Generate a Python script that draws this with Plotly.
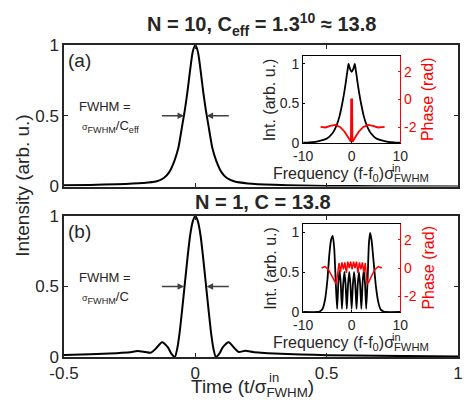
import math
import plotly.graph_objects as go

# ---------------- data ----------------
# panel (a): output pulse, N = 10
t_a = [-0.5, -0.4, -0.3, -0.2, -0.15, -0.12, -0.1, -0.08, -0.065, -0.05, -0.04, -0.03, -0.02, -0.01, 0.0,
       0.01, 0.02, 0.03, 0.04, 0.05, 0.065, 0.08, 0.1, 0.12, 0.15, 0.2, 0.3, 0.4, 0.5, 0.7, 1.0]
I_a = [0.008, 0.011, 0.016, 0.025, 0.035, 0.06, 0.1, 0.18, 0.27, 0.43, 0.54, 0.67, 0.82, 0.95, 1.0,
       0.95, 0.82, 0.67, 0.54, 0.43, 0.27, 0.18, 0.1, 0.06, 0.035, 0.022, 0.012, 0.007, 0.004, 0.002, 0.0]

# panel (b): output pulse, N = 1
t_b = [-0.5, -0.4, -0.3, -0.25, -0.22, -0.19, -0.17, -0.15, -0.127, -0.105, -0.09, -0.078, -0.07, -0.06, -0.05,
       -0.04, -0.03, -0.02, -0.01, 0.0, 0.01, 0.02, 0.03, 0.04, 0.05, 0.06, 0.07, 0.078, 0.09, 0.105, 0.127,
       0.15, 0.165, 0.19, 0.22, 0.25, 0.3, 0.4, 0.5, 0.7, 1.0]
I_b = [0.014, 0.02, 0.027, 0.033, 0.043, 0.035, 0.03, 0.06, 0.105, 0.07, 0.02, 0.0, 0.05, 0.17, 0.34,
       0.52, 0.7, 0.86, 0.96, 1.0, 0.96, 0.86, 0.7, 0.52, 0.34, 0.17, 0.05, 0.0, 0.02, 0.07, 0.105,
       0.06, 0.035, 0.045, 0.035, 0.03, 0.025, 0.018, 0.013, 0.008, 0.004]

# inset (a): spectrum intensity and phase
f_spec_a = [-10, -9, -8, -7, -6, -5, -4, -3.5, -3, -2.5, -2, -1.5, -1.2, -1, -0.8, -0.65, -0.5, -0.3, 0,
            0.3, 0.5, 0.65, 0.8, 1, 1.2, 1.5, 2, 2.5, 3, 3.5, 4, 5, 6, 7, 8, 9, 10]
S_a = [0.003, 0.006, 0.01, 0.02, 0.035, 0.06, 0.12, 0.17, 0.24, 0.34, 0.48, 0.65, 0.77, 0.86, 0.94, 1.0, 0.97, 0.93, 0.9,
       0.93, 0.97, 1.0, 0.94, 0.86, 0.77, 0.65, 0.48, 0.34, 0.24, 0.17, 0.12, 0.06, 0.035, 0.02, 0.01, 0.006, 0.003]
f_phase_a = [-6.4, -5.4, -4.4, -3.4, -2.4, -1.5, -0.8, -0.34, -0.15, -0.1, 0.1, 0.15, 0.34, 0.8, 1.5, 2.4, 3.4, 4.4, 5.4, 6.8]
phi_a = [-1.98, -2.02, -1.9, -1.83, -1.98, -2.31, -2.69, -2.98, -3.05, 0.0, 0.0, -3.05, -2.98, -2.69, -2.31, -1.98, -1.83, -1.9, -2.02, -1.98]

# inset (b): spectrum intensity and phase
f_spec_b = [-10, -7, -6.5, -6, -5.5, -5, -4.6, -4.25, -3.9, -3.6, -3.3, -3.0, -2.75, -2.5, -2.25, -2.0, -1.75, -1.5,
            -1.25, -1.0, -0.75, -0.5, -0.25, 0, 0.25, 0.5, 0.75, 1.0, 1.25, 1.5, 1.75, 2.0, 2.25, 2.5, 2.75, 3.0,
            3.3, 3.55, 3.8, 4.1, 4.45, 5.0, 5.5, 6.0, 6.5, 7.0, 10]
S_b = [0, 0, 0.01, 0.04, 0.15, 0.4, 0.72, 0.9, 0.95, 0.8, 0.4, 0.04, 0.36, 0.52, 0.36, 0.04, 0.34, 0.5,
       0.34, 0.04, 0.34, 0.5, 0.34, 0.04, 0.34, 0.5, 0.34, 0.04, 0.34, 0.5, 0.34, 0.04, 0.36, 0.52, 0.36, 0.04,
       0.42, 0.85, 0.99, 0.9, 0.68, 0.32, 0.12, 0.03, 0.01, 0, 0]
f_phase_b = [-6.2, -5.5, -4.8, -4.2, -3.6, -3.2, -2.9, -2.6, -2.3, -2.0, -1.7, -1.4, -1.1, -0.8, -0.5, -0.2,
             0.1, 0.4, 0.7, 1.0, 1.3, 1.6, 1.9, 2.2, 2.5, 2.8, 3.2, 3.6, 4.2, 4.8, 5.5, 6.2]
phi_b = [0.0, 0.1, -0.1, -0.5, -0.95, -1.14, -0.4, 0.35, -0.3, 0.4, -0.1, 0.4, -0.35, 0.45, 0.0, 0.45,
         -0.1, 0.45, 0.0, 0.45, -0.35, 0.4, -0.1, 0.4, -0.3, 0.35, -1.14, -0.95, -0.5, -0.1, 0.1, 0.0]

x_ticks = [-0.5, 0, 0.5, 1]
x_ticktext = ["-0.5", "0", "0.5", "1"]
y_ticks = [0, 0.5, 1]
y_ticktext = ["0", "0.5", "1"]
inset_x_ticks = [-10, 0, 10]
inset_x_ticktext = ["-10", "0", "10"]
phase_ticks = [-2, 0, 2]
phase_ticktext = ["-2", "0", "2"]
half_max = 0.5
fwhm_edges = [-0.043, 0.043]

# ---------------- layout helpers ----------------
W, H = 468, 403
L, R, T, B = 64, 2, 45, 46
PW, PH = W - L - R, H - T - B


def px(x):  # page pixel -> paper
    return (x - L) / PW


def py(y):
    return (H - B - y) / PH


FONT = "Liberation Sans, Arial, Helvetica, sans-serif"
AX = "#262626"
RED = "#ff0000"

fig = go.Figure()
fig.add_trace(go.Scatter(x=t_b, y=I_b, xaxis="x", yaxis="y", mode="lines",
                         line=dict(color="black", width=2, shape="spline", smoothing=0.6)))
fig.add_trace(go.Scatter(x=t_a, y=I_a, xaxis="x2", yaxis="y2", mode="lines",
                         line=dict(color="black", width=2, shape="spline", smoothing=0.6)))
fig.add_trace(go.Scatter(x=f_spec_a, y=S_a, xaxis="x3", yaxis="y3", mode="lines",
                         line=dict(color="black", width=1.8, shape="spline", smoothing=0.6)))
fig.add_trace(go.Scatter(x=f_phase_a, y=phi_a, xaxis="x3", yaxis="y4", mode="lines",
                         line=dict(color=RED, width=1.8)))
fig.add_trace(go.Scatter(x=f_spec_b, y=S_b, xaxis="x4", yaxis="y5", mode="lines",
                         line=dict(color="black", width=1.8, shape="spline", smoothing=0.6)))
fig.add_trace(go.Scatter(x=f_phase_b, y=phi_b, xaxis="x4", yaxis="y6", mode="lines",
                         line=dict(color=RED, width=1.5)))

main_ax = dict(showline=True, linecolor=AX, linewidth=1.5, mirror="ticks", ticks="inside", ticklen=4,
               tickcolor=AX, tickwidth=1, showgrid=False, zeroline=False,
               tickfont=dict(family=FONT, size=17, color=AX))
inset_ax = dict(showline=True, linecolor="black", linewidth=1.3, ticks="inside", ticklen=2,
                tickcolor="black", showgrid=False, zeroline=False,
                tickfont=dict(family=FONT, size=14, color=AX))
phase_ax = dict(showline=True, linecolor=RED, linewidth=1.3, ticks="inside", ticklen=2,
                tickcolor=RED, showgrid=False, zeroline=False, side="right",
                range=[-math.pi, math.pi], tickvals=phase_ticks, ticktext=phase_ticktext,
                tickfont=dict(family=FONT, size=14, color=RED))

ia_x = [px(308), px(407)]
ia_y = [py(143), py(56)]
ib_y = [py(312), py(224)]

fig.update_layout(
    width=W, height=H, margin=dict(l=L, r=R, t=T, b=B),
    paper_bgcolor="white", plot_bgcolor="white", showlegend=False,
    font=dict(family=FONT, color=AX),
    xaxis=dict(main_ax, domain=[0, 1], anchor="y", range=[-0.5, 1], tickvals=x_ticks, ticktext=x_ticktext,
               ticklabeloverflow="allow"),
    yaxis=dict(main_ax, domain=[0, py(216)], anchor="x", range=[0, 1], tickvals=y_ticks, ticktext=y_ticktext),
    xaxis2=dict(main_ax, domain=[0, 1], anchor="y2", range=[-0.5, 1], tickvals=x_ticks, showticklabels=False),
    yaxis2=dict(main_ax, domain=[py(186.5), 1], anchor="x2", range=[0, 1], tickvals=y_ticks, ticktext=y_ticktext),
    xaxis3=dict(inset_ax, domain=ia_x, anchor="y3", range=[-10, 10], tickvals=inset_x_ticks,
                ticktext=inset_x_ticktext, mirror=True),
    yaxis3=dict(inset_ax, domain=ia_y, anchor="x3", range=[0, 1.1], tickvals=y_ticks, ticktext=y_ticktext),
    yaxis4=dict(phase_ax, overlaying="y3", anchor="x3"),
    xaxis4=dict(inset_ax, domain=ia_x, anchor="y5", range=[-10, 10], tickvals=inset_x_ticks,
                ticktext=inset_x_ticktext, mirror=True),
    yaxis5=dict(inset_ax, domain=ib_y, anchor="x4", range=[0, 1.1], tickvals=y_ticks, ticktext=y_ticktext),
    yaxis6=dict(phase_ax, overlaying="y5", anchor="x4"),
)

ann = []


def text(x, y, s, size, color=AX, angle=0, xanchor="center", yanchor="middle"):
    ann.append(dict(x=px(x), y=py(y), xref="paper", yref="paper", text=s, showarrow=False,
                    font=dict(family=FONT, size=size, color=color), textangle=angle,
                    xanchor=xanchor, yanchor=yanchor))


# titles
text(265, 24, "<b>N = 10, C<sub>eff</sub> = 1.3<sup>10</sup> ≈ 13.8</b>", 20)
text(267, 202, "<b>N = 1, C = 13.8</b>", 20)
# panel letters
text(66, 60, "(a)", 19, xanchor="left")
text(66, 231, "(b)", 19, xanchor="left")
# y label
text(21, 185, "Intensity (arb. u.)", 19, angle=-90)
# x label
text(192, 388, "Time (t/σ<sub>FWHM</sub>)", 19, xanchor="left")
text(271, 377, "in", 13, xanchor="left")
# FWHM notes
for y0, s in [(107, "σ<sub>FWHM</sub>/C<sub>eff</sub>"), (277, "σ<sub>FWHM</sub>/C")]:
    text(77, y0, "FWHM =", 13, xanchor="left")
    text(80, y0 + 20, s.replace("σ", "<span style='font-size:9px'>σ</span>"), 13, xanchor="left")
# inset labels
for (ybot, ymid) in [(143, 99.5), (312, 268)]:
    text(274, ymid, "Int. (arb. u.)", 16, angle=-90)
    text(435, ymid, "Phase (rad)", 16, color=RED, angle=-90)
    text(275, ybot + 31, "Frequency (f-f<sub>0</sub>)σ<sub>FWHM</sub>", 16, xanchor="left")
    text(397, ybot + 25, "in", 11, xanchor="left")

# FWHM arrows
for xr, yr in [("x2", "y2"), ("x", "y")]:
    ann.append(dict(x=fwhm_edges[0], y=half_max, ax=fwhm_edges[0] - 0.09, ay=half_max, xref=xr, yref=yr,
                    axref=xr, ayref=yr, showarrow=True, arrowhead=2, arrowsize=1, arrowwidth=1.3,
                    arrowcolor="#404040", text=""))
    ann.append(dict(x=fwhm_edges[1], y=half_max, ax=fwhm_edges[1] + 0.09, ay=half_max, xref=xr, yref=yr,
                    axref=xr, ayref=yr, showarrow=True, arrowhead=2, arrowsize=1, arrowwidth=1.3,
                    arrowcolor="#404040", text=""))

fig.update_layout(annotations=ann)
# remove the default 8px page margin so the figure sits at the window origin
fig.write_html("out.html", config={"displayModeBar": False},
               post_script="document.body.style.margin='0px';")
